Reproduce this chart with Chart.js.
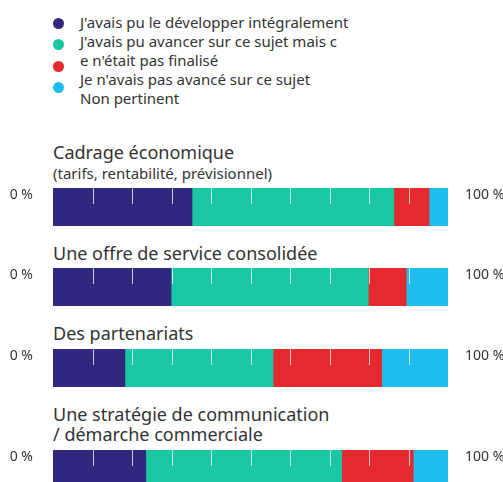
<!DOCTYPE html>
<html>
<head>
<meta charset="utf-8">
<script src="https://cdn.jsdelivr.net/npm/chart.js@4/dist/chart.umd.min.js"></script>
<style>
    body { margin: 0; background: #fff; font-family: "Noto Sans", sans-serif; color: #333; }
    #page { position: relative; width: 503px; height: 482px; overflow: hidden; }
    #legend { position: absolute; left: 0; top: 0; width: 503px; height: 120px; }
    .dot { position: absolute; left: 53px; width: 11px; height: 11px; border-radius: 50%; }
    #legend-text { position: absolute; left: 80px; top: 13px; font-size: 15px; line-height: 19px; white-space: pre-line; }
    #charts { position: absolute; left: 0; top: 142px; width: 503px; }
    .titre { padding-left: 53px; font-size: 18px; line-height: 20.5px; white-space: pre-line; }
    .sous-titre { padding-left: 53px; font-size: 15px; line-height: 20px; }
    canvas { display: block; margin-top: 5px; margin-bottom: 17px; }
</style>
</head>
<body>
<div id="page">
    <div id="legend"><div id="legend-text"></div></div>
    <div id="charts"></div>
</div>
<script>
// categories
const titres = ['Cadrage économique', 'Une offre de service consolidée', 'Des partenariats', 'Une stratégie de communication\n/ démarche commerciale']
const sous_titres = ['(tarifs, rentabilité, prévisionnel)', '', '', '']

// series (en %)
const series_labels = ["J'avais pu le développer intégralement", "J'avais pu avancer sur ce sujet mais c\ne n'était pas finalisé", "Je n'avais pas avancé sur ce sujet", "Non pertinent"]
const developpe = [35.2, 29.9, 18.2, 23.5]
const avance = [51.1, 49.9, 37.5, 49.6]
const pas_avance = [8.9, 9.6, 27.5, 18.1]
const non_pertinent = [4.8, 10.6, 16.8, 8.8]

const couleurs = ['#30287f', '#1bc7a3', '#e52a2f', '#21bcef']
const valeurs = [developpe, avance, pas_avance, non_pertinent]

// legende
const legend = document.getElementById('legend')
document.getElementById('legend-text').textContent = series_labels.join('\n')
couleurs.forEach((c, i) => {
    const d = document.createElement('div')
    d.className = 'dot'
    d.style.background = c
    d.style.top = (18 + i * 21.3) + 'px'
    legend.appendChild(d)
})

// petits traits blancs + 0 % / 100 %
const reperes = {
    id: 'reperes',
    afterDatasetsDraw(chart) {
        const ctx = chart.ctx
        const x = chart.scales.x
        const area = chart.chartArea
        ctx.save()
        ctx.strokeStyle = 'rgba(255,255,255,0.75)'
        ctx.lineWidth = 1
        for (let v = 10; v < 100; v += 10) {
            const px = Math.round(x.getPixelForValue(v)) + 0.5
            ctx.beginPath()
            ctx.moveTo(px, area.top)
            ctx.lineTo(px, area.top + 16)
            ctx.stroke()
        }
        ctx.fillStyle = '#333'
        ctx.font = '14px "Noto Sans"'
        ctx.textBaseline = 'middle'
        ctx.textAlign = 'right'
        ctx.fillText('0 %', x.getPixelForValue(0) - 20, area.top + 7)
        ctx.textAlign = 'left'
        ctx.fillText('100 %', x.getPixelForValue(100) + 17, area.top + 7)
        ctx.restore()
    }
}

const charts = document.getElementById('charts')
titres.forEach((titre, i) => {
    const bloc = document.createElement('div')
    const t = document.createElement('div')
    t.className = 'titre'
    t.textContent = titre
    bloc.appendChild(t)
    if (sous_titres[i]) {
        const s = document.createElement('div')
        s.className = 'sous-titre'
        s.textContent = sous_titres[i]
        bloc.appendChild(s)
    }
    const canvas = document.createElement('canvas')
    canvas.width = 503
    canvas.height = 38
    bloc.appendChild(canvas)
    charts.appendChild(bloc)

    new Chart(canvas.getContext('2d'), {
        type: 'bar',
        data: {
            labels: [titre],
            datasets: series_labels.map((label, k) => ({
                label: label,
                data: [valeurs[k][i]],
                backgroundColor: couleurs[k],
                borderWidth: 0,
                barPercentage: 1,
                categoryPercentage: 1
            }))
        },
        options: {
            indexAxis: 'y',
            responsive: false,
            animation: false,
            layout: { padding: { left: 53, right: 55, top: 0, bottom: 0 } },
            scales: {
                x: { stacked: true, min: 0, max: 100, display: false },
                y: { stacked: true, display: false }
            },
            plugins: {
                legend: { display: false },
                tooltip: { enabled: false }
            }
        },
        plugins: [reperes]
    })
})
</script>
</body>
</html>
